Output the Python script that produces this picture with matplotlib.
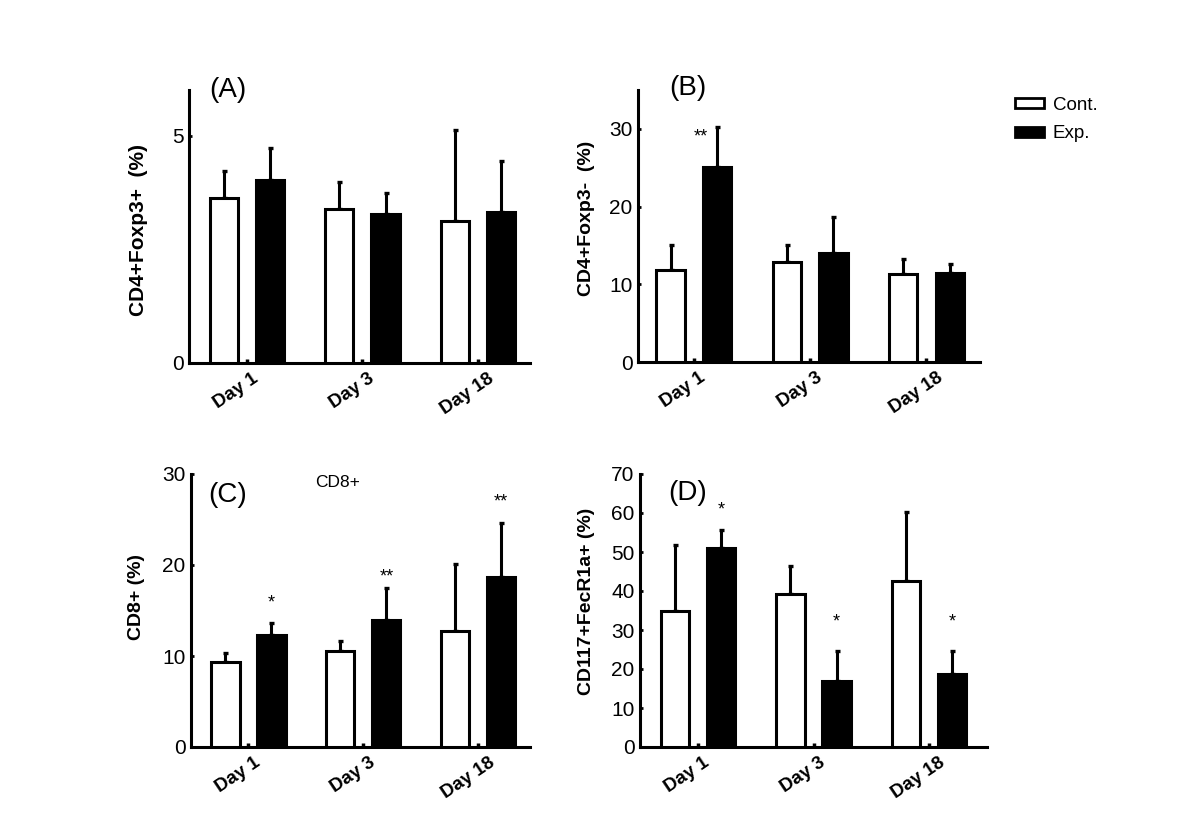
import matplotlib
matplotlib.use('Agg')
import matplotlib.pyplot as plt
import matplotlib.transforms as mtransforms
from matplotlib.patches import Patch
import numpy as np

plt.rcParams['font.family'] = ['Liberation Sans', 'DejaVu Sans']

days = ['Day 1', 'Day 3', 'Day 18']
series_names = ['Cont.', 'Exp.']

# Panel A: CD4+Foxp3+ (%)
a_cont = [3.62, 3.38, 3.12]
a_cont_sd = [0.61, 0.60, 1.99]
a_exp = [4.03, 3.27, 3.32]
a_exp_sd = [0.69, 0.46, 1.11]

# Panel B: CD4+Foxp3- (%)
b_cont = [11.8, 12.9, 11.3]
b_cont_sd = [3.3, 2.2, 1.9]
b_exp = [25.1, 14.0, 11.5]
b_exp_sd = [5.2, 4.6, 1.1]
b_sig = ['**', '', '']
b_sig_y = [29.0, 0, 0]

# Panel C: CD8+ (%)
c_cont = [9.3, 10.6, 12.75]
c_cont_sd = [1.0, 1.1, 7.4]
c_exp = [12.35, 14.0, 18.65]
c_exp_sd = [1.3, 3.5, 6.0]
c_sig = ['*', '**', '**']
c_sig_y = [15.8, 18.7, 26.9]

# Panel D: CD117+FecR1a+ (%)
d_cont = [35.0, 39.2, 42.5]
d_cont_sd = [16.7, 7.3, 17.8]
d_exp = [51.0, 16.9, 18.6]
d_exp_sd = [4.6, 7.8, 6.1]
d_sig = ['*', '*', '*']
d_sig_y = [60.9, 32.0, 32.0]

W, H = 1200, 840
fig = plt.figure(figsize=(12, 8.4), dpi=100)


def px_axes(l, r, b, t):
    return fig.add_axes([l / W, 1 - b / H, (r - l) / W, (b - t) / H])


LW = 2.2
x = np.arange(1, 4)
off = 0.2
bw = 0.245


def panel(ax, cont, cont_sd, exp, exp_sd, ylim, yticks, ylabel, ylab_xy,
          letter, letter_xy, xlim, sig=None, sig_y=None, sig_dx=0.0,
          ylabel_size=14):
    ax.bar(x - off, cont, width=bw, facecolor='white', edgecolor='black',
           linewidth=LW, zorder=3)
    ax.bar(x + off, exp, width=bw, facecolor='black', edgecolor='black',
           linewidth=LW, zorder=3)
    ax.errorbar(x - off, cont, yerr=[np.zeros(3), cont_sd], fmt='none',
                ecolor='black', elinewidth=2.2, capsize=1.8, capthick=2.4, zorder=2)
    ax.errorbar(x + off, exp, yerr=[np.zeros(3), exp_sd], fmt='none',
                ecolor='black', elinewidth=2.2, capsize=1.8, capthick=2.4, zorder=2)
    ax.set_ylim(*ylim)
    ax.set_xlim(*xlim)
    ax.set_yticks(yticks)
    ax.set_xticks(x)
    ax.tick_params(axis='x', direction='in', length=3, width=2.5, pad=5)
    ax.tick_params(axis='y', direction='in', length=2.5, width=2, pad=4,
                   labelsize=15)
    ax.set_xticklabels(days, rotation=34, ha='center', fontsize=13.5,
                       fontweight='bold')
    offset = mtransforms.ScaledTranslation(-7.5 / 72, 0, fig.dpi_scale_trans)
    for lab in ax.get_xticklabels():
        lab.set_transform(lab.get_transform() + offset)
    for s in ['top', 'right']:
        ax.spines[s].set_visible(False)
    for s in ['left', 'bottom']:
        ax.spines[s].set_linewidth(LW)
    ax.set_ylabel(ylabel, fontsize=ylabel_size, fontweight='bold')
    ax.yaxis.set_label_coords(*ylab_xy)
    ax.text(letter_xy[0], letter_xy[1], letter, transform=ax.transAxes,
            fontsize=20, ha='center', va='center')
    if sig is not None:
        for xi, s, sy in zip(x, sig, sig_y):
            if s:
                ax.text(xi + off + sig_dx, sy, s, ha='center', va='center',
                        fontsize=13)
    ax.set_facecolor('none')


axA = px_axes(189, 530, 363, 90)
panel(axA, a_cont, a_cont_sd, a_exp, a_exp_sd, (0, 6), [0, 5],
      'CD4+Foxp3+  (%)', (-0.12, 0.487), '(A)', ((228 - 189) / 341, (363 - 90) / 273),
      (0.5, 3.45), ylabel_size=15)

axB = px_axes(638, 980, 362, 90)
panel(axB, b_cont, b_cont_sd, b_exp, b_exp_sd, (0, 35), [0, 10, 20, 30],
      'CD4+Foxp3-  (%)', (-0.127, 0.528), '(B)', ((687.5 - 638) / 342, (362 - 88) / 272),
      (0.52, 3.46), b_sig, b_sig_y, sig_dx=-0.14)

axC = px_axes(191, 530, 747, 474)
panel(axC, c_cont, c_cont_sd, c_exp, c_exp_sd, (0, 30), [0, 10, 20, 30],
      'CD8+ (%)', (-0.136, 0.55), '(C)', ((228 - 191) / 339, (747 - 495) / 273),
      (0.5, 3.45), c_sig, c_sig_y)
axC.text((338 - 191) / 339, (747 - 483) / 273, 'CD8+', transform=axC.transAxes,
         ha='center', va='center', fontsize=12.5)

axD = px_axes(640, 987, 747, 474)
panel(axD, d_cont, d_cont_sd, d_exp, d_exp_sd, (0, 70), list(range(0, 71, 10)),
      'CD117+FecR1a+ (%)', (-0.13, 0.535), '(D)', ((687.5 - 640) / 347, (747 - 493) / 273),
      (0.5, 3.5), d_sig, d_sig_y)

handles = [Patch(facecolor='white', edgecolor='black', linewidth=2),
           Patch(facecolor='black', edgecolor='black', linewidth=2)]
fig.legend(handles=handles, labels=series_names, loc='upper left',
           bbox_to_anchor=(1015 / W, 1 - 97 / H), frameon=False,
           handlelength=1.55, handleheight=0.45, handletextpad=0.45,
           labelspacing=0.6, fontsize=13.5, borderaxespad=0, borderpad=0)

fig.savefig('out.png', dpi=100, facecolor='white')
